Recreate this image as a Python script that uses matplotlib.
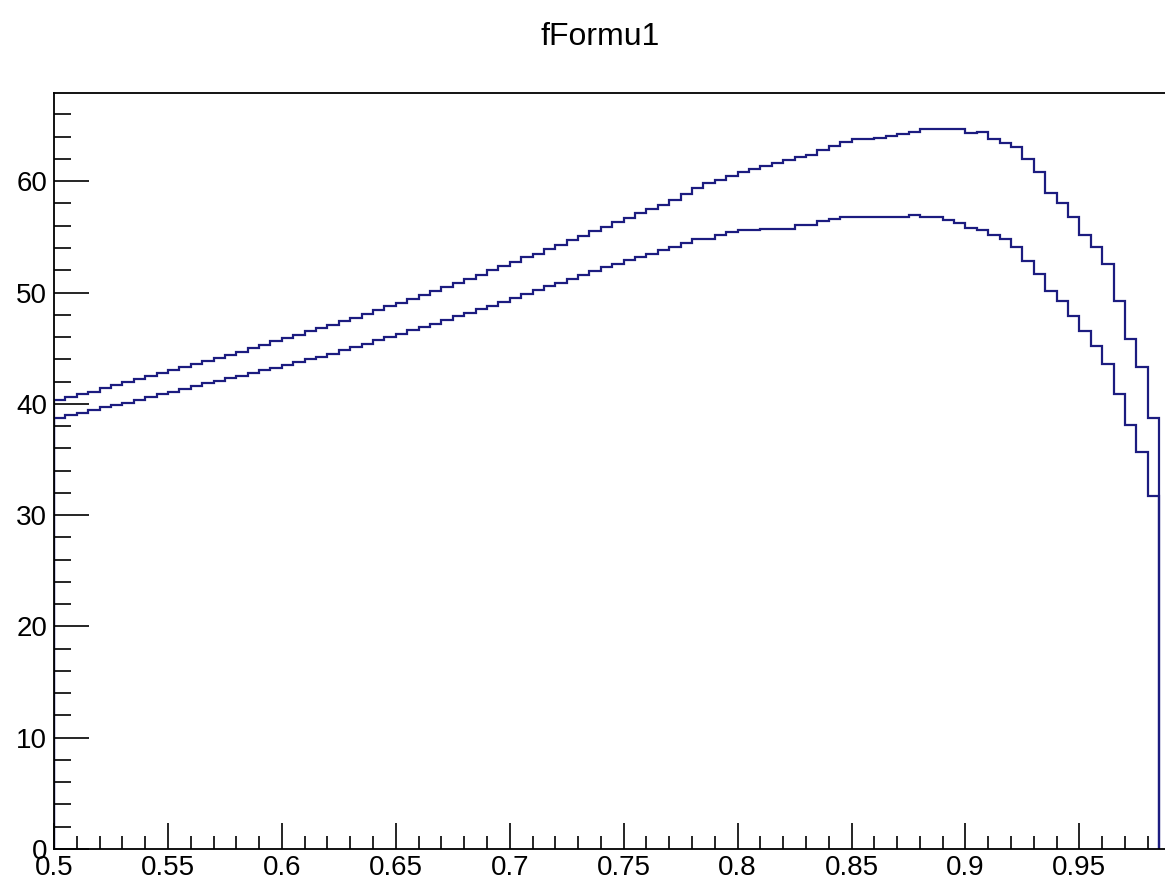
import numpy as np
import matplotlib
matplotlib.use("Agg")
import matplotlib.pyplot as plt
from matplotlib.ticker import MultipleLocator

plt.rcParams['font.family'] = ['Liberation Sans', 'DejaVu Sans']

# histogram binning (0.005 wide bins starting at 0.5)
bin_lo = 0.5
bin_width = 0.005

upper = [40.3, 40.6, 40.9, 41.1, 41.4, 41.7, 42.0, 42.25, 42.5, 42.8,
         43.0, 43.3, 43.6, 43.85, 44.1, 44.4, 44.7, 45.0, 45.3, 45.6,
         45.9, 46.2, 46.5, 46.8, 47.1, 47.4, 47.75, 48.1, 48.4, 48.75,
         49.1, 49.45, 49.8, 50.15, 50.5, 50.9, 51.25, 51.6, 52.0, 52.4,
         52.75, 53.15, 53.5, 53.9, 54.3, 54.7, 55.1, 55.5, 55.9, 56.3,
         56.7, 57.1, 57.5, 57.9, 58.3, 58.85, 59.4, 59.8, 60.1, 60.5,
         60.85, 61.1, 61.4, 61.65, 61.95, 62.2, 62.4, 62.85, 63.15, 63.5,
         63.75, 63.75, 63.9, 64.1, 64.2, 64.45, 64.65, 64.65, 64.65, 64.65,
         64.3, 64.45, 63.8, 63.45, 63.1, 62.0, 60.8, 58.9, 58.0, 56.8,
         55.2, 54.1, 52.6, 49.2, 45.8, 43.3, 38.7]

lower = [38.7, 39.0, 39.2, 39.45, 39.7, 39.9, 40.1, 40.3, 40.6, 40.85,
         41.1, 41.3, 41.6, 41.85, 42.05, 42.3, 42.5, 42.75, 43.0, 43.25,
         43.5, 43.75, 44.0, 44.25, 44.5, 44.8, 45.1, 45.4, 45.7, 46.0,
         46.3, 46.6, 46.9, 47.2, 47.5, 47.85, 48.15, 48.5, 48.8, 49.15,
         49.5, 49.85, 50.2, 50.55, 50.9, 51.25, 51.6, 51.95, 52.3, 52.6,
         52.9, 53.2, 53.5, 53.8, 54.1, 54.45, 54.8, 54.8, 55.15, 55.4,
         55.6, 55.6, 55.75, 55.75, 55.75, 56.05, 56.05, 56.45, 56.65, 56.8,
         56.8, 56.8, 56.8, 56.8, 56.8, 56.96, 56.8, 56.8, 56.5, 56.25,
         55.8, 55.6, 55.15, 54.8, 54.1, 52.8, 51.7, 50.1, 49.2, 47.9,
         46.5, 45.2, 43.6, 40.9, 38.1, 35.7, 31.7]

title = "fFormu1"

edges = bin_lo + bin_width * np.arange(len(upper) + 1)

W, H = 1165, 886
fig = plt.figure(figsize=(W / 100, H / 100), dpi=100)
ax = fig.add_axes([54 / W, 1 - 849 / H, 0.49 * 2278.7 / W, (849 - 93.3) / H])

col = '#1c1c80'
ax.stairs(upper, edges, baseline=0, color=col, lw=1.6)
ax.stairs(lower, edges, baseline=0, color=col, lw=1.6)

ax.set_xlim(0.5, 0.99)
ax.set_ylim(0, 67.9)

ax.xaxis.set_major_locator(MultipleLocator(0.05))
ax.xaxis.set_minor_locator(MultipleLocator(0.01))
ax.yaxis.set_major_locator(MultipleLocator(10))
ax.yaxis.set_minor_locator(MultipleLocator(2))
ax.xaxis.set_major_formatter(plt.FuncFormatter(lambda v, p: f"{v:g}"))

ax.tick_params(axis='x', which='major', direction='in', length=19, width=1.2, pad=4, labelsize=20)
ax.tick_params(axis='x', which='minor', direction='in', length=9.5, width=1.2)
ax.tick_params(axis='y', which='major', direction='in', length=25, width=1.2, pad=5, labelsize=20)
ax.tick_params(axis='y', which='minor', direction='in', length=12.5, width=1.2)
for s in ax.spines.values():
    s.set_linewidth(1.3)

fig.text(600 / W, 1 - 37 / H, title, ha='center', va='center', fontsize=23)

fig.savefig("out.png", dpi=100)
